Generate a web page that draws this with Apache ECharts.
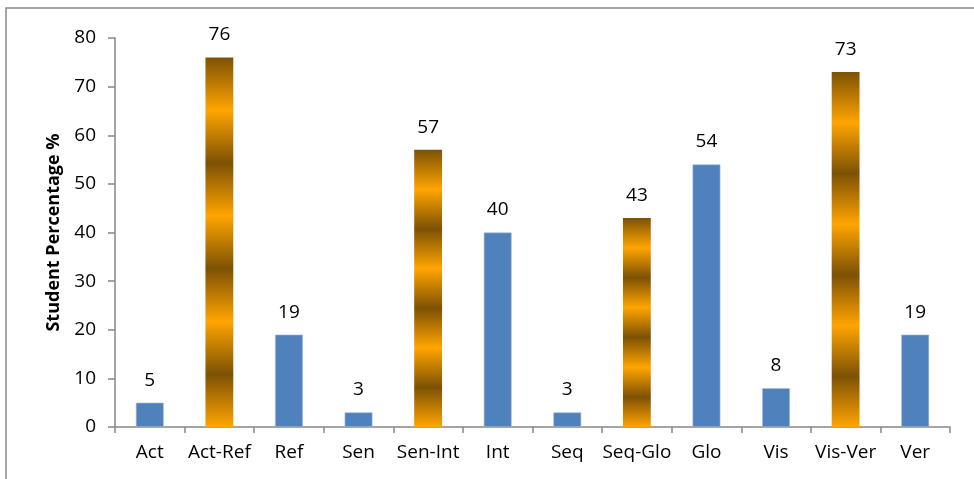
<!DOCTYPE html>
<html>
<head>
<meta charset="utf-8">
<script src="https://cdn.jsdelivr.net/npm/echarts@6/dist/echarts.min.js"></script>
<style>
  html, body { margin: 0; padding: 0; background: #fff; }
  #chart { width: 974px; height: 479px; }
</style>
</head>
<body>
<div id="chart"></div>
<script type="text/javascript">
var categories = ['Act', 'Act-Ref', 'Ref', 'Sen', 'Sen-Int', 'Int', 'Seq', 'Seq-Glo', 'Glo', 'Vis', 'Vis-Ver', 'Ver'];
var percentages = [5, 76, 19, 3, 57, 40, 3, 43, 54, 8, 73, 19];
var combined = [false, true, false, false, true, false, false, true, false, false, true, false];
var yTicks = { min: 0, max: 80, interval: 10 };

var FONT = "'Open Sans', 'Noto Sans', sans-serif";

// banded gold fill, dark at top, 7 bands down to orange at the bottom
function goldFill() {
	var stops = [];
	for (var i = 0; i <= 7; i++) {
		stops.push({ offset: i / 7, color: i % 2 === 0 ? '#7d5104' : '#ffa500' });
	}
	return new echarts.graphic.LinearGradient(0, 0, 0, 1, stops);
}

var barData = [];
for (var i = 0; i < percentages.length; i++) {
	barData.push({
		value: percentages[i],
		itemStyle: combined[i] ? { color: goldFill() } : { color: '#4f81bd', borderColor: '#a9c0de', borderWidth: 0.6 }
	});
}

var option = {
	animation: false,
	backgroundColor: '#fff',
	graphic: [{
		type: 'rect',
		shape: { x: 6, y: 8, width: 1000, height: 500 },
		style: { fill: 'none', stroke: '#8a8a8a', lineWidth: 1.5 },
		silent: true
	}],
	grid: { left: 115, right: 24, top: 38, bottom: 52 },
	xAxis: {
		type: 'category',
		data: categories,
		axisLine: { lineStyle: { color: '#868686', width: 1.5 } },
		axisTick: { show: true, length: 6, lineStyle: { color: '#868686', width: 1.5 } },
		axisLabel: { color: '#000', fontSize: 19, fontFamily: FONT, margin: 16, interval: 0 }
	},
	yAxis: {
		type: 'value',
		min: yTicks.min,
		max: yTicks.max,
		interval: yTicks.interval,
		name: 'Student Percentage %',
		nameLocation: 'middle',
		nameGap: 52,
		nameTextStyle: { color: '#000', fontSize: 18, fontWeight: 'bold', fontFamily: FONT },
		splitLine: { show: false },
		axisLine: { show: true, lineStyle: { color: '#868686', width: 1.5 } },
		axisTick: { show: true, length: 7, lineStyle: { color: '#868686', width: 1.5 } },
		axisLabel: { color: '#000', fontSize: 19, fontFamily: FONT, margin: 19 }
	},
	series: [{
		type: 'bar',
		data: barData,
		barWidth: '40%',
		label: {
			show: true,
			position: 'top',
			distance: 13,
			color: '#000',
			fontSize: 19,
			fontFamily: FONT
		}
	}]
};

var myChart = echarts.init(document.getElementById('chart'));
myChart.setOption(option);
</script>
</body>
</html>
